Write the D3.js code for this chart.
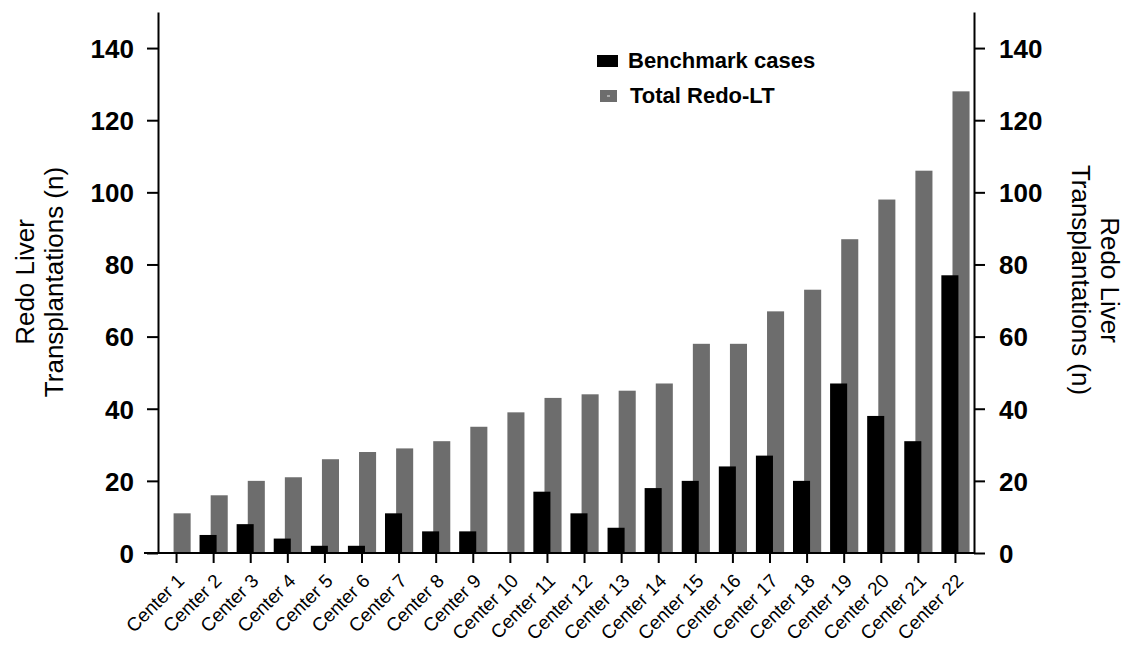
<!DOCTYPE html>
<html>
<head>
<meta charset="utf-8">
<script src="https://cdn.jsdelivr.net/npm/d3@7"></script>
<style>
  body { margin: 0; background: #fff; }
  text { font-family: "Liberation Sans", Arial, sans-serif; }
</style>
</head>
<body>
<div id="chart-area"></div>
<script>
var centers = ["Center 1","Center 2","Center 3","Center 4","Center 5","Center 6","Center 7","Center 8","Center 9","Center 10","Center 11",
               "Center 12","Center 13","Center 14","Center 15","Center 16","Center 17","Center 18","Center 19","Center 20","Center 21","Center 22"];
var benchmark = [0, 5, 8, 4, 2, 2, 11, 6, 6, 0, 17, 11, 7, 18, 20, 24, 27, 20, 47, 38, 31, 77];
var totalRedo = [11, 16, 20, 21, 26, 28, 29, 31, 35, 39, 43, 44, 45, 47, 58, 58, 67, 73, 87, 98, 106, 128];
var yTicks = [0, 20, 40, 60, 80, 100, 120, 140];
var legendLabels = ["Benchmark cases", "Total Redo-LT"];

var width = 1126, height = 651;
var plotLeft = 158, plotRight = 974, plotTop = 12, plotBottom = 553;
var grey = "#6d6d6d";

var svg = d3.select("#chart-area").append("svg")
    .attr("width", width)
    .attr("height", height);

var x = d3.scaleBand().domain(centers).range([plotLeft, plotRight]).padding(0);
var y = d3.scaleLinear().domain([0, 150]).range([plotBottom, plotTop]);

var bw = x.bandwidth();
var barW = bw * 0.46;

// grey bars behind, black in front
svg.append("g").selectAll("rect")
    .data(totalRedo)
    .enter().append("rect")
    .attr("x", (d, i) => x(centers[i]) + bw / 2 - bw * 0.08)
    .attr("y", d => y(d))
    .attr("width", barW)
    .attr("height", d => y(0) - y(d))
    .attr("fill", grey);

svg.append("g").selectAll("rect")
    .data(benchmark)
    .enter().append("rect")
    .attr("x", (d, i) => x(centers[i]) + bw / 2 - bw * 0.38)
    .attr("y", d => y(d))
    .attr("width", barW)
    .attr("height", d => y(0) - y(d))
    .attr("fill", "#000");

// axes
var yLeft = svg.append("g")
    .attr("transform", "translate(" + plotLeft + ",0)")
    .call(d3.axisLeft(y).tickValues(yTicks).tickSize(11).tickPadding(13).tickSizeOuter(0));
var yRight = svg.append("g")
    .attr("transform", "translate(" + plotRight + ",0)")
    .call(d3.axisRight(y).tickValues(yTicks).tickSize(11).tickPadding(14).tickSizeOuter(0));
var xAxis = svg.append("g")
    .attr("transform", "translate(0," + plotBottom + ")")
    .call(d3.axisBottom(x).tickSize(10).tickSizeOuter(0).tickPadding(6));

[yLeft, yRight].forEach(function(a) {
    a.selectAll("text")
        .attr("font-size", "26px")
        .attr("font-weight", "bold")
        .attr("fill", "#000")
        .attr("dy", "0.36em");
});
[yLeft, yRight, xAxis].forEach(function(a) {
    a.selectAll("line, path").attr("stroke", "#000").attr("stroke-width", 2);
    a.attr("font-family", null);
});
xAxis.select(".domain").attr("d", "M" + (plotLeft - 14) + ",0H" + (plotRight + 1));

xAxis.selectAll("text")
    .attr("font-size", "19px")
    .attr("fill", "#000")
    .attr("text-anchor", "end")
    .attr("x", 0)
    .attr("y", 0)
    .attr("dy", "0")
    .attr("transform", "translate(9,29) rotate(-45)");

// axis titles
var lt = svg.append("text")
    .attr("transform", "translate(34,282) rotate(-90)")
    .attr("text-anchor", "middle")
    .attr("font-size", "26px");
lt.append("tspan").attr("x", 0).attr("y", 0).text("Redo Liver");
lt.append("tspan").attr("x", 0).attr("y", 29).text("Transplantations (n)");

var rt = svg.append("text")
    .attr("transform", "translate(1101,280) rotate(90)")
    .attr("text-anchor", "middle")
    .attr("font-size", "26px");
rt.append("tspan").attr("x", 0).attr("y", 0).text("Redo Liver");
rt.append("tspan").attr("x", 0).attr("y", 29).text("Transplantations (n)");

// legend
var legend = svg.append("g").attr("transform", "translate(597,55)");
legendLabels.forEach(function(lbl, i) {
    var g = legend.append("g").attr("transform", "translate(0," + (i * 35) + ")");
    g.append("rect")
        .attr("x", i === 0 ? 0 : 3)
        .attr("y", 0)
        .attr("width", i === 0 ? 21 : 17)
        .attr("height", 12)
        .attr("fill", i === 0 ? "#000" : grey);
    if (i === 1) {
        g.append("rect").attr("x", 10).attr("y", 5).attr("width", 3).attr("height", 2).attr("fill", "#aaa");
    }
    g.append("text")
        .attr("x", 31 + (i === 1 ? 2 : 0))
        .attr("y", 13)
        .attr("font-size", "22px")
        .attr("font-weight", "bold")
        .text(lbl);
});
</script>
</body>
</html>
